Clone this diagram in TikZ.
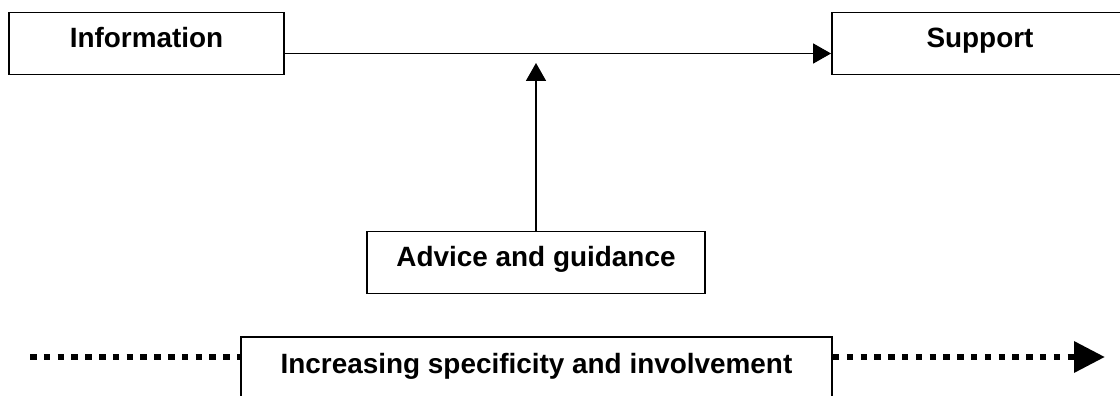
\documentclass[tikz,border=0pt]{standalone}
\usepackage{fontspec}
\setmainfont{Liberation Sans}
\usetikzlibrary{arrows.meta}
\tikzset{
  box/.style={draw,line width=1.9pt,font=\bfseries\fontsize{27.9}{33}\selectfont,
    text height=25pt,text depth=17pt,inner ysep=10pt,inner xsep=0pt},
  link/.style={line width=1.8pt,-{Triangle[length=18pt,width=20pt]}},
  dotline/.style={line width=6.5pt,dash pattern=on 6.5pt off 7.3pt},
}
\begin{document}
\begin{tikzpicture}[x=1pt,y=1pt]
    \useasboundingbox (0,0) rectangle (1120,-396);
    %% the three boxes
    \node[box,minimum width=275pt] (info) at (146.5,-43.5) {Information};
    \node[box,minimum width=296pt] (support) at (980,-43.5) {Support};
    \node[box,minimum width=338pt] (advice) at (536,-262.5) {Advice and guidance};
    %% arrows
    \draw[link] ([yshift=-10pt]info.east) -- ([yshift=-10pt]support.west);
    \coordinate (tip) at (536,-63);
    \draw[link] (advice.north) -- (tip);
    %% dotted scale at the bottom
    \node[box,minimum width=591pt,text height=21pt,text depth=40pt,inner ysep=15pt,
      anchor=base] (trend) at (536.5,-373) {Increasing specificity and involvement};
    \coordinate (start) at (30,-357);
    \coordinate (end) at (1105,-357);
    \draw[dotline] (start) -- (start -| trend.west);
    \draw[dotline,-{Triangle[length=31pt,width=30pt]}] (end -| trend.east) -- (end);
\end{tikzpicture}
\end{document}
